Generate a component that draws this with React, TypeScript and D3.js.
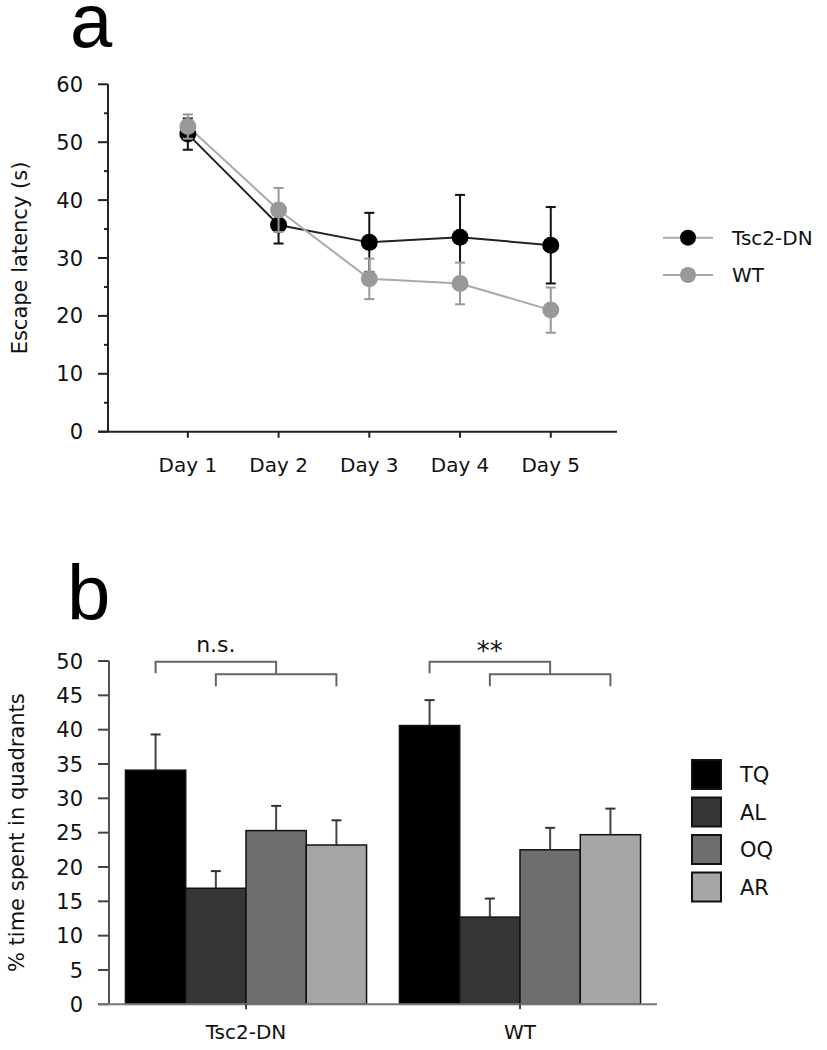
import React from 'react';
import * as d3 from 'd3';

// ---------- Panel a data ----------
const days = ['Day 1', 'Day 2', 'Day 3', 'Day 4', 'Day 5'];
const tscMean = [51.4, 35.7, 32.7, 33.6, 32.2];
const tscErr = [2.7, 3.2, 5.1, 7.3, 6.6];
const wtMean = [52.7, 38.3, 26.4, 25.6, 21.0];
const wtErr = [2.1, 3.8, 3.5, 3.6, 3.9];
const latencyTicks = [0, 10, 20, 30, 40, 50, 60];
const latencyMinor = [5, 15, 25, 35, 45, 55];
const lineSeries = ['Tsc2-DN', 'WT'];

// ---------- Panel b data ----------
const groups = ['Tsc2-DN', 'WT'];
const quadrants = ['TQ', 'AL', 'OQ', 'AR'];
const tscPct = [34.1, 16.9, 25.3, 23.2];
const tscPctErr = [5.2, 2.5, 3.6, 3.6];
const wtPct = [40.6, 12.7, 22.5, 24.7];
const wtPctErr = [3.7, 2.7, 3.2, 3.8];
const pctTicks = [0, 5, 10, 15, 20, 25, 30, 35, 40, 45, 50];
const significance = ['n.s.', '**'];

const FONT = 'DejaVu Sans';
const TXT = '#111';

export default function App() {
  // ----- Panel a scales -----
  const xA = d3.scaleLinear().domain([0.12, 5.73]).range([108, 617]);
  const yA = d3.scaleLinear().domain([0, 60]).range([431.7, 84.3]);
  const lineGen = d3
    .line<number>()
    .x((_, i) => xA(i + 1))
    .y((d) => yA(d));

  const seriesA = [
    { name: lineSeries[0], mean: tscMean, err: tscErr, color: '#000', line: '#222', errColor: '#111' },
    { name: lineSeries[1], mean: wtMean, err: wtErr, color: '#999', line: '#aaa', errColor: '#999' },
  ];

  // ----- Panel b scales -----
  const xB = d3.scaleBand<string>().domain(groups).range([109, 657]).paddingInner(0.12).paddingOuter(0.06);
  const xQ = d3.scaleBand<string>().domain(quadrants).range([0, xB.bandwidth()]).padding(0);
  const yB = d3.scaleLinear().domain([0, 50]).range([1004.3, 661]);
  const barColors = d3.scaleOrdinal<string, string>().domain(quadrants).range(['#000000', '#353535', '#6e6e6e', '#a6a6a6']);
  const groupData = [
    { g: groups[0], vals: tscPct, errs: tscPctErr },
    { g: groups[1], vals: wtPct, errs: wtPctErr },
  ];

  const cap = 5;

  return (
    <svg width={827} height={1050} style={{ position: 'absolute', left: 0, top: 0, background: '#fff' }}>
      {/* Panel letters */}
      <text x={70} y={47} fontFamily="Liberation Sans" fontSize={76} fill="#000">a</text>
      <text x={67} y={620} fontFamily="Liberation Sans" fontSize={78} fill="#000">b</text>

      {/* ================= Panel a ================= */}
      <g>
        {/* y axis */}
        <line x1={xA(0.12)} x2={xA(0.12)} y1={yA(60)} y2={yA(0)} stroke="#222" strokeWidth={2} />
        {latencyTicks.map((t) => (
          <g key={'yt' + t}>
            <line x1={xA(0.12) - 10} x2={xA(0.12)} y1={yA(t)} y2={yA(t)} stroke="#222" strokeWidth={2} />
            <text x={83} y={yA(t)} dy="0.36em" textAnchor="end" fontFamily={FONT} fontSize={21} fill={TXT}>{t}</text>
          </g>
        ))}
        {latencyMinor.map((t) => (
          <line key={'ym' + t} x1={xA(0.12) - 4} x2={xA(0.12)} y1={yA(t)} y2={yA(t)} stroke="#222" strokeWidth={2} />
        ))}
        {/* x axis */}
        <line x1={xA(0.12) - 10} x2={xA(5.73)} y1={yA(0)} y2={yA(0)} stroke="#222" strokeWidth={2} />
        {days.map((d, i) => (
          <g key={d}>
            <line x1={xA(i + 1)} x2={xA(i + 1)} y1={yA(0)} y2={yA(0) + 6} stroke="#222" strokeWidth={2} />
            <text x={xA(i + 1)} y={472} textAnchor="middle" fontFamily={FONT} fontSize={20} fill={TXT}>{d}</text>
          </g>
        ))}
        <text
          transform={`translate(27,${(yA(0) + yA(60)) / 2}) rotate(-90)`}
          textAnchor="middle"
          fontFamily={FONT}
          fontSize={21}
          fill={TXT}
        >
          Escape latency (s)
        </text>

        {/* lines */}
        {seriesA.map((s) => (
          <path key={'l' + s.name} d={lineGen(s.mean) || ''} fill="none" stroke={s.line} strokeWidth={2} />
        ))}
        {seriesA.map((s) => (
          <g key={'s' + s.name}>
            {s.mean.map((m, i) => (
              <g key={i}>
                <line x1={xA(i + 1)} x2={xA(i + 1)} y1={yA(m - s.err[i])} y2={yA(m + s.err[i])} stroke={s.errColor} strokeWidth={2} />
                <line x1={xA(i + 1) - cap} x2={xA(i + 1) + cap} y1={yA(m + s.err[i])} y2={yA(m + s.err[i])} stroke={s.errColor} strokeWidth={2} />
                <line x1={xA(i + 1) - cap} x2={xA(i + 1) + cap} y1={yA(m - s.err[i])} y2={yA(m - s.err[i])} stroke={s.errColor} strokeWidth={2} />
              </g>
            ))}
            {s.mean.map((m, i) => (
              <circle key={'c' + i} cx={xA(i + 1)} cy={yA(m)} r={8.5} fill={s.color} />
            ))}
          </g>
        ))}

        {/* legend a */}
        {seriesA.map((s, i) => {
          const ly = 237.7 + i * 37.3;
          return (
            <g key={'lg' + s.name}>
              <line x1={663} x2={713} y1={ly} y2={ly} stroke="#aaa" strokeWidth={2} />
              <circle cx={688} cy={ly} r={8} fill={s.color} />
              <text x={732} y={ly} dy="0.36em" fontFamily={FONT} fontSize={20} fill={TXT}>{s.name}</text>
            </g>
          );
        })}
      </g>

      {/* ================= Panel b ================= */}
      <g>
        {/* bars */}
        {groupData.map((gd) => (
          <g key={'g' + gd.g} transform={`translate(${xB(gd.g)},0)`}>
            {quadrants.map((q, i) => {
              const x0 = xQ(q) as number;
              const w = xQ.bandwidth();
              const cx = x0 + w / 2;
              return (
                <g key={q}>
                  <line x1={cx} x2={cx} y1={yB(gd.vals[i])} y2={yB(gd.vals[i] + gd.errs[i])} stroke="#444" strokeWidth={2} />
                  <line x1={cx - cap} x2={cx + cap} y1={yB(gd.vals[i] + gd.errs[i])} y2={yB(gd.vals[i] + gd.errs[i])} stroke="#333" strokeWidth={2} />
                  <rect x={x0} y={yB(gd.vals[i])} width={w} height={yB(0) - yB(gd.vals[i])} fill={barColors(q)} stroke="#111" strokeWidth={1.5} />
                </g>
              );
            })}
          </g>
        ))}

        {/* y axis */}
        <line x1={109} x2={109} y1={yB(50)} y2={yB(0)} stroke="#555" strokeWidth={2} />
        {pctTicks.map((t) => (
          <g key={'pt' + t}>
            <line x1={98} x2={109} y1={yB(t)} y2={yB(t)} stroke="#444" strokeWidth={2} />
            <text x={83} y={yB(t)} dy="0.36em" textAnchor="end" fontFamily={FONT} fontSize={21} fill={TXT}>{t}</text>
          </g>
        ))}
        {/* x axis */}
        <line x1={99} x2={657} y1={yB(0)} y2={yB(0)} stroke="#777" strokeWidth={2} />
        {groups.map((g) => {
          const cx = (xB(g) as number) + xB.bandwidth() / 2;
          return (
            <g key={'xl' + g}>
              <line x1={cx} x2={cx} y1={yB(0)} y2={yB(0) + 5} stroke="#444" strokeWidth={2} />
              <text x={cx} y={1039} textAnchor="middle" fontFamily={FONT} fontSize={20} fill={TXT}>{g}</text>
            </g>
          );
        })}
        <text
          transform={`translate(24,${(yB(0) + yB(50)) / 2}) rotate(-90)`}
          textAnchor="middle"
          fontFamily={FONT}
          fontSize={21}
          fill={TXT}
        >
          % time spent in quadrants
        </text>

        {/* significance brackets */}
        {groups.map((g, gi) => {
          const gx = xB(g) as number;
          const c = (q: string) => gx + (xQ(q) as number) + xQ.bandwidth() / 2;
          const top1 = yB(50) + 0.7;
          const top2 = top1 + 12.5;
          const join = (c('AL') + c('AR')) / 2;
          const mid1 = (c('TQ') + join) / 2;
          return (
            <g key={'br' + g} fill="none" stroke="#666" strokeWidth={2}>
              <path d={`M${c('TQ')},${top1 + 11.5} V${top1} H${join} V${top2}`} />
              <path d={`M${c('AL')},${top2 + 12} V${top2} H${c('AR')} V${top2 + 12}`} />
              <text x={mid1} y={gi === 0 ? 652 : 660} textAnchor="middle" fontFamily={FONT} fontSize={gi === 0 ? 22 : 26} fill={TXT} stroke="none">
                {significance[gi]}
              </text>
            </g>
          );
        })}

        {/* legend b */}
        {quadrants.map((q, i) => {
          const ly = 760 + i * 37.5;
          return (
            <g key={'lb' + q}>
              <rect x={692} y={ly} width={29} height={29} fill={barColors(q)} stroke="#111" strokeWidth={2} />
              <text x={740} y={ly + 14.5} dy="0.36em" fontFamily={FONT} fontSize={21} fill={TXT}>{q}</text>
            </g>
          );
        })}
      </g>
    </svg>
  );
}
